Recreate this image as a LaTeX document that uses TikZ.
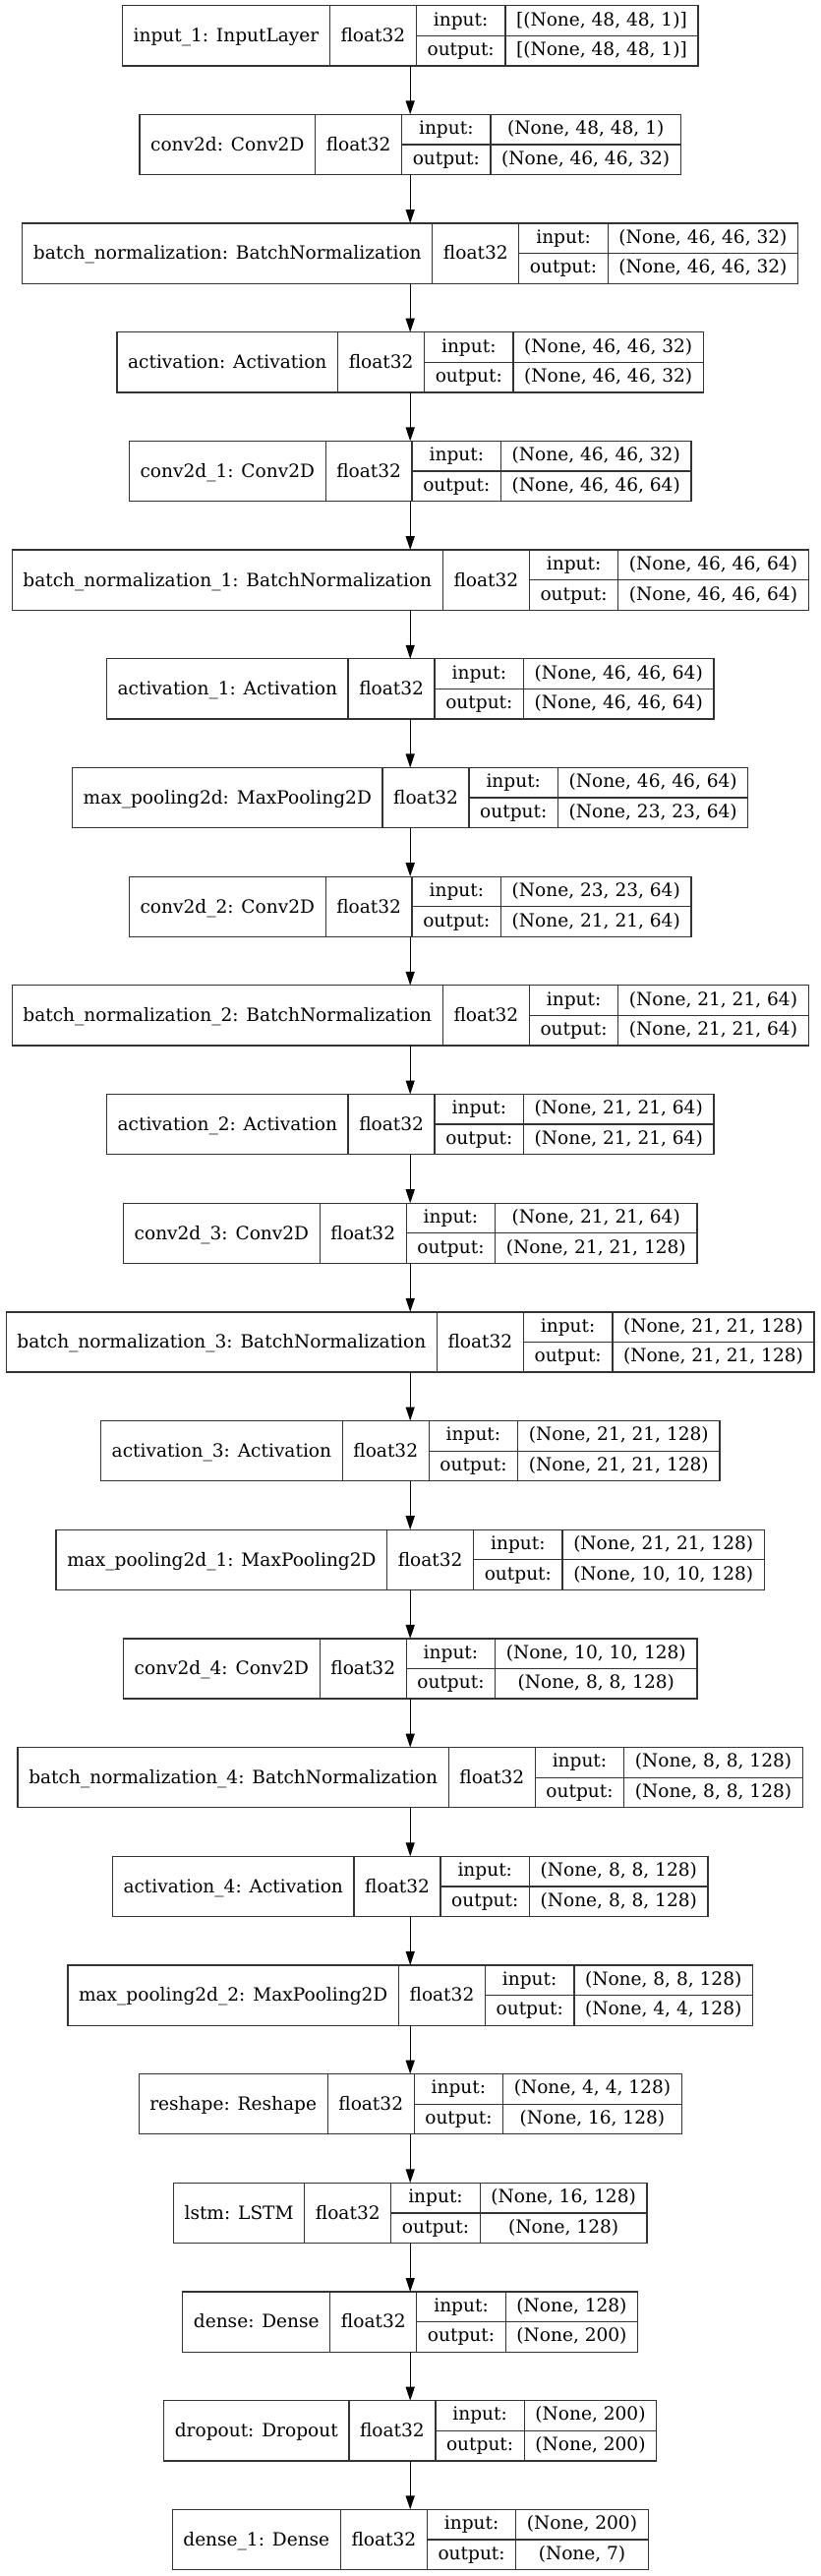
\documentclass[tikz,border=0pt]{standalone}
\usepackage{fontspec}
\setmainfont{DejaVu Serif}
\usetikzlibrary{arrows.meta}
\newlength\LWa \newlength\LWb \newlength\LWc \newlength\LWd \newlength\LWtmp \newlength\LWt
\newcommand\fs{\fontsize{18.56}{22}\selectfont}
\definecolor{boxline}{HTML}{333333}
\tikzset{
  cell/.style={draw=boxline, line width=1.3pt, inner sep=0pt, outer sep=0pt, rectangle, font=\fs, anchor=north west},
  bigcell/.style={cell, minimum height=61.2pt, text height=15.6pt, text depth=3pt},
  rowcell/.style={cell, minimum height=30.6pt, text height=13pt, text depth=3pt},
  arrow/.style={draw=black, line width=1.3pt, -{Triangle[length=14pt,width=9pt]}}
}
% measuring pass (outside the picture)
\newcommand\Lmeasure[5]{%
  \settowidth\LWa{\fs #3}\addtolength\LWa{22.3pt}%
  \settowidth\LWb{\fs float32}\addtolength\LWb{22.3pt}%
  \settowidth\LWc{\fs output:}\addtolength\LWc{22.3pt}%
  \settowidth\LWd{\fs #4}\settowidth\LWtmp{\fs #5}%
  \ifdim\LWtmp>\LWd\setlength\LWd{\LWtmp}\fi\addtolength\LWd{22.3pt}%
  \expandafter\xdef\csname #1wa\endcsname{\the\LWa}%
  \expandafter\xdef\csname #1wb\endcsname{\the\LWb}%
  \expandafter\xdef\csname #1wc\endcsname{\the\LWc}%
  \expandafter\xdef\csname #1wd\endcsname{\the\LWd}%
}
% drawing pass (inside the picture)
\newcommand\Ldraw[5]{%
  \edef\LWA{\csname #1wa\endcsname}%
  \edef\LWB{\csname #1wb\endcsname}%
  \edef\LWC{\csname #1wc\endcsname}%
  \edef\LWD{\csname #1wd\endcsname}%
  \pgfmathsetmacro\Ltop{5.7+110.68*#2}%
  \pgfmathsetmacro\Lleft{417.2-0.5*(\LWA+\LWB+\LWC+\LWD)}%
  \node[bigcell, minimum width=\LWA] (#1-name) at (\Lleft,\Ltop) {#3};
  \node[bigcell, minimum width=\LWB] (#1-type) at (#1-name.north east) {float32};
  \node[rowcell, minimum width=\LWC] (#1-inl) at (#1-type.north east) {input:};
  \node[rowcell, minimum width=\LWC] (#1-outl) at (#1-inl.south west) {output:};
  \node[rowcell, minimum width=\LWD] (#1-inv) at (#1-inl.north east) {#4};
  \node[rowcell, minimum width=\LWD] (#1-outv) at (#1-inv.south west) {#5};
  \coordinate (#1-top) at (417.2,\Ltop);
  \coordinate (#1-bot) at (417.2,\Ltop+61.2);
}
\newcommand\LayerData{%
\L{L0}{0}{input\_1: InputLayer}{[(None, 48, 48, 1)]}{[(None, 48, 48, 1)]}%
\L{L1}{1}{conv2d: Conv2D}{(None, 48, 48, 1)}{(None, 46, 46, 32)}%
\L{L2}{2}{batch\_normalization: BatchNormalization}{(None, 46, 46, 32)}{(None, 46, 46, 32)}%
\L{L3}{3}{activation: Activation}{(None, 46, 46, 32)}{(None, 46, 46, 32)}%
\L{L4}{4}{conv2d\_1: Conv2D}{(None, 46, 46, 32)}{(None, 46, 46, 64)}%
\L{L5}{5}{batch\_normalization\_1: BatchNormalization}{(None, 46, 46, 64)}{(None, 46, 46, 64)}%
\L{L6}{6}{activation\_1: Activation}{(None, 46, 46, 64)}{(None, 46, 46, 64)}%
\L{L7}{7}{max\_pooling2d: MaxPooling2D}{(None, 46, 46, 64)}{(None, 23, 23, 64)}%
\L{L8}{8}{conv2d\_2: Conv2D}{(None, 23, 23, 64)}{(None, 21, 21, 64)}%
\L{L9}{9}{batch\_normalization\_2: BatchNormalization}{(None, 21, 21, 64)}{(None, 21, 21, 64)}%
\L{L10}{10}{activation\_2: Activation}{(None, 21, 21, 64)}{(None, 21, 21, 64)}%
\L{L11}{11}{conv2d\_3: Conv2D}{(None, 21, 21, 64)}{(None, 21, 21, 128)}%
\L{L12}{12}{batch\_normalization\_3: BatchNormalization}{(None, 21, 21, 128)}{(None, 21, 21, 128)}%
\L{L13}{13}{activation\_3: Activation}{(None, 21, 21, 128)}{(None, 21, 21, 128)}%
\L{L14}{14}{max\_pooling2d\_1: MaxPooling2D}{(None, 21, 21, 128)}{(None, 10, 10, 128)}%
\L{L15}{15}{conv2d\_4: Conv2D}{(None, 10, 10, 128)}{(None, 8, 8, 128)}%
\L{L16}{16}{batch\_normalization\_4: BatchNormalization}{(None, 8, 8, 128)}{(None, 8, 8, 128)}%
\L{L17}{17}{activation\_4: Activation}{(None, 8, 8, 128)}{(None, 8, 8, 128)}%
\L{L18}{18}{max\_pooling2d\_2: MaxPooling2D}{(None, 8, 8, 128)}{(None, 4, 4, 128)}%
\L{L19}{19}{reshape: Reshape}{(None, 4, 4, 128)}{(None, 16, 128)}%
\L{L20}{20}{lstm: LSTM}{(None, 16, 128)}{(None, 128)}%
\L{L21}{21}{dense: Dense}{(None, 128)}{(None, 200)}%
\L{L22}{22}{dropout: Dropout}{(None, 200)}{(None, 200)}%
\L{L23}{23}{dense\_1: Dense}{(None, 200)}{(None, 7)}%
}
\begin{document}
{\let\L\Lmeasure\LayerData}%
\begin{tikzpicture}[x=1pt,y=-1pt]
\useasboundingbox (0,0) rectangle (835,2619);
\let\L\Ldraw
\LayerData
\foreach \i [evaluate=\i as \j using int(\i+1)] in {0,...,22}
  \draw[arrow] (L\i-bot) -- (L\j-top);
\end{tikzpicture}
\end{document}
